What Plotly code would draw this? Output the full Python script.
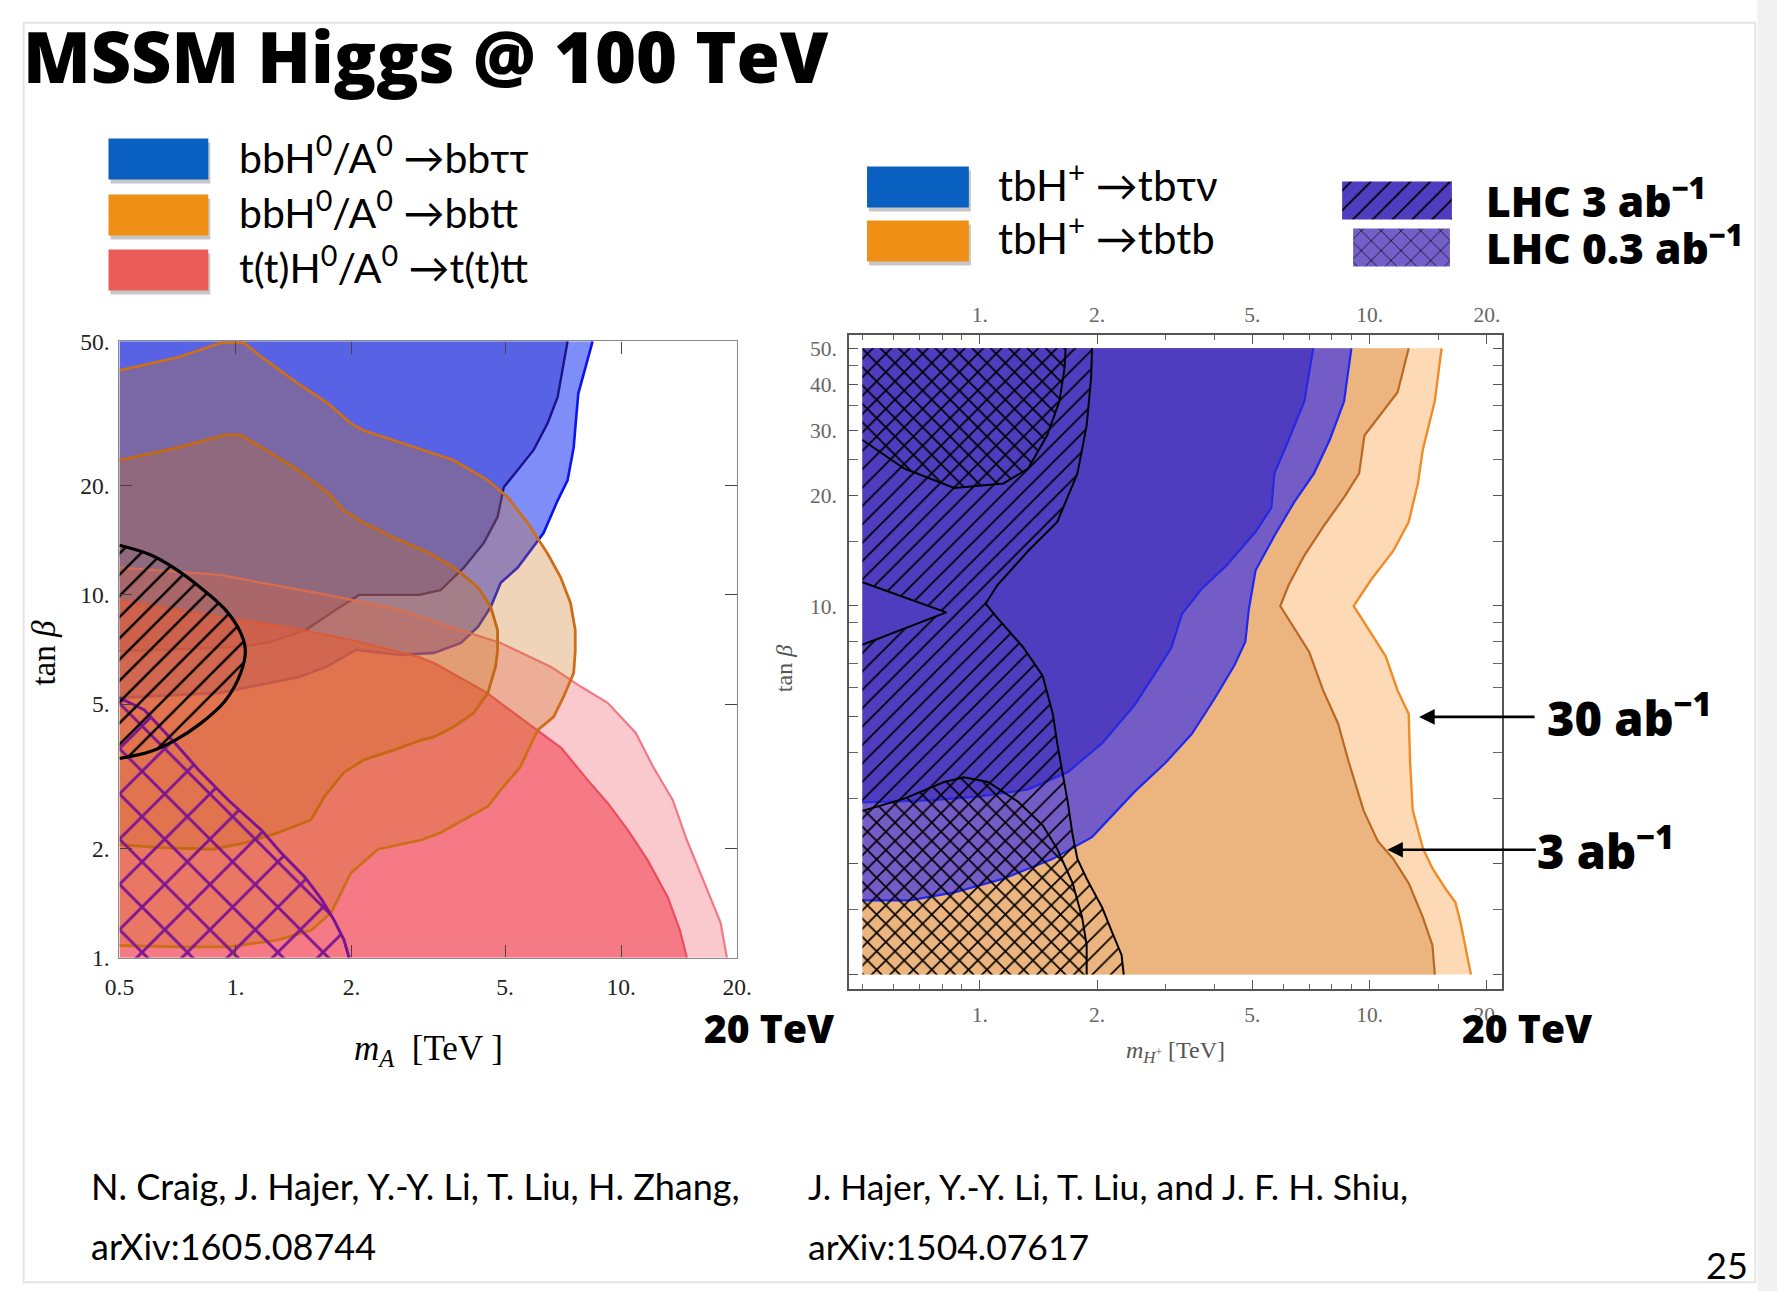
import numpy as np
import plotly.graph_objects as go

W, H = 1777, 1291

# ---------------- left panel: neutral Higgs, m_A [TeV] vs tan(beta) ----------------
# bbH0/A0 -> bb tau tau  (30 ab^-1 outer, 3 ab^-1 inner)
BBTAUTAU_30_MA = [8.43, 7.99, 7.74, 7.62, 7.53, 7.26, 6.84, 6.29, 5.93, 5.39, 4.87, 4.59, 4.25, 3.84, 3.27, 2.68, 2.05, 1.72, 1.46, 1.10, 0.91, 0.5]
BBTAUTAU_30_TB = [50, 40.8, 35.9, 29.7, 25.5, 20.7, 18.2, 14.8, 13.6, 11.9, 10.8, 9.26, 8.16, 7.37, 6.92, 6.83, 7.05, 6.33, 5.94, 5.58, 5.37, 5.2]
BBTAUTAU_3_MA = [7.26, 7.09, 6.84, 6.44, 5.93, 5.39, 4.96, 4.78, 4.40, 3.91, 3.40, 2.99, 2.09, 1.82, 1.52, 1.22, 1.04, 0.75, 0.5]
BBTAUTAU_3_TB = [50, 43.5, 35.1, 29.7, 25.1, 22.1, 19.8, 16.4, 13.9, 11.9, 10.3, 10.0, 10.0, 9.1, 8.0, 7.4, 7.2, 7.1, 7.0]

# t(t)H0/A0 -> t(t)tt
TTTT_30_MA = [0.5, 0.91, 1.65, 2.68, 3.62, 4.87, 6.58, 7.87, 9.22, 10.9, 12.1, 13.6, 14.8, 16.3, 18.1, 18.8]
TTTT_30_TB = [11.9, 11.35, 10.1, 9.09, 8.16, 7.37, 6.33, 5.58, 5.04, 4.17, 3.36, 2.72, 2.11, 1.64, 1.25, 1.0]
TTTT_3_MA = [0.5, 0.91, 1.35, 2.0, 2.99, 3.27, 4.45, 5.95, 7.0, 8.18, 9.22, 10.4, 11.7, 13.2, 14.2, 14.8]
TTTT_3_TB = [9.68, 8.69, 8.16, 7.51, 6.74, 6.49, 5.4, 4.3, 3.78, 3.09, 2.67, 2.25, 1.86, 1.47, 1.19, 1.0]

# bbH0/A0 -> bbtt
BBTT_30_MA = [0.5, 0.71, 0.92, 1.05, 1.17, 1.45, 1.74, 1.99, 2.15, 2.57, 3.03, 3.68, 4.51, 5.08, 5.72, 6.44, 6.96, 7.39, 7.6, 7.6, 7.53, 7.09, 6.68, 6.07, 5.48, 4.87, 4.51, 3.91, 3.40, 3.03, 2.34, 1.99, 1.88, 1.77, 1.57, 1.29, 0.96, 0.71, 0.5]
BBTT_30_TB = [41.6, 45.2, 49.6, 49.6, 45.2, 38.3, 33.7, 29.7, 28.4, 26.7, 25.2, 23.5, 20.7, 18.6, 15.8, 13.0, 11.2, 9.5, 8.0, 7.0, 6.09, 5.24, 4.61, 4.24, 3.36, 2.90, 2.61, 2.40, 2.21, 2.11, 1.99, 1.71, 1.51, 1.33, 1.19, 1.12, 1.07, 1.07, 1.08]
BBTT_3_MA = [0.5, 0.71, 0.94, 1.03, 1.17, 1.45, 1.74, 1.91, 2.15, 2.57, 3.2, 3.68, 4.25, 4.59, 4.78, 4.78, 4.72, 4.51, 4.15, 3.68, 3.27, 3.03, 2.6, 2.15, 1.91, 1.70, 1.57, 1.29, 1.05, 0.87, 0.64, 0.5]
BBTT_3_TB = [23.5, 25.5, 27.6, 27.6, 25.5, 22.1, 19.1, 17.1, 15.8, 14.4, 13.0, 11.9, 10.5, 9.26, 8.0, 7.0, 6.33, 5.37, 4.73, 4.33, 4.06, 3.98, 3.75, 3.51, 3.24, 2.78, 2.40, 2.21, 2.07, 1.99, 2.01, 2.05]

# LHC reach (left panel)
LHC3_L_MA = [0.5, 0.601, 0.698, 0.809, 0.939, 1.03, 1.06, 1.03, 0.939, 0.809, 0.698, 0.601, 0.5]
LHC3_L_TB = [13.7, 12.9, 11.8, 10.5, 9.12, 7.88, 7.02, 6.07, 5.10, 4.41, 3.98, 3.70, 3.54]
LHC03_L_MA = [0.5, 0.58, 0.711, 0.80, 0.957, 1.165, 1.31, 1.51, 1.67, 1.80, 1.91, 1.97]
LHC03_L_TB = [5.2, 4.82, 3.81, 3.30, 2.72, 2.25, 1.95, 1.67, 1.45, 1.27, 1.12, 1.0]

# ---------------- right panel: charged Higgs, m_H+ [TeV] vs tan(beta) ----------------
TBTAUNU_3_MH = [7.17, 6.8, 6.2, 5.7, 5.6, 5.1, 4.3, 3.7, 3.3, 3.1, 2.8, 2.5, 2.06, 1.68, 1.33, 0.99, 0.74, 0.5]
TBTAUNU_3_TB = [50, 35.9, 28.2, 22.9, 18.5, 15.9, 12.9, 11.1, 9.5, 7.7, 6.5, 5.4, 4.24, 3.54, 3.18, 3.04, 2.97, 2.93]
TBTAUNU_30_MH = [8.98, 8.6, 7.9, 7.2, 6.4, 5.7, 5.1, 4.9, 4.8, 4.5, 4.0, 3.5, 3.0, 2.5, 1.94, 1.54, 1.15, 0.86, 0.66, 0.5]
TBTAUNU_30_TB = [50, 35.9, 28.2, 22.9, 19.1, 15.5, 12.5, 9.8, 8.0, 6.9, 5.6, 4.5, 3.76, 3.14, 2.36, 2.06, 1.82, 1.67, 1.59, 1.59]
TBTB_3_MH = [12.6, 11.8, 9.7, 9.4, 8.6, 7.6, 6.8, 6.2, 5.9, 6.4, 7.0, 7.6, 8.3, 8.85, 9.66, 10.5, 11.5, 12.6, 13.7, 14.5, 14.7]
TBTB_3_TB = [50, 38, 29, 22.9, 19.7, 16.4, 13.7, 11.4, 10, 8.7, 7.5, 5.9, 4.8, 3.76, 2.78, 2.3, 2.06, 1.77, 1.43, 1.2, 1.0]
TBTB_30_MH = [15.3, 14.7, 13.7, 13.3, 12.6, 11.5, 10.1, 9.1, 9.9, 11.0, 11.8, 12.6, 12.7, 12.9, 13.7, 14.5, 15.6, 16.6, 17.1, 17.6, 18.2]
TBTB_30_TB = [50, 36, 26.6, 21.5, 16.9, 14.1, 11.8, 10, 8.7, 7.3, 5.9, 5.1, 3.8, 2.8, 2.2, 1.94, 1.72, 1.57, 1.39, 1.2, 1.0]

# LHC reach (right panel)
LHC3_R_MH = [1.94, 1.93, 1.88, 1.78, 1.58, 1.33, 1.11, 1.035, 1.11, 1.29, 1.45, 1.54, 1.58, 1.63, 1.68, 1.73, 1.78, 1.88, 2.06, 2.18, 2.31, 2.34]
LHC3_R_TB = [50, 41.7, 30.9, 22.9, 16.9, 14.1, 11.4, 10.15, 9.27, 7.74, 6.46, 5.08, 4.24, 3.54, 2.95, 2.39, 2.06, 1.82, 1.52, 1.31, 1.13, 1.0]
LHC3_R_NOTCH_MH = [0.5, 0.82, 0.5]
LHC3_R_NOTCH_TB = [7.85, 9.61, 11.6]
LHC03_R_TOP_MH = [1.66, 1.65, 1.60, 1.49, 1.33, 1.15, 0.86, 0.64, 0.5]
LHC03_R_TOP_TB = [50, 44.3, 35.9, 29.1, 23.6, 21.5, 20.9, 23.6, 28.2]
LHC03_R_BOT_MH = [0.5, 0.64, 0.81, 0.91, 1.05, 1.25, 1.45, 1.58, 1.73, 1.83, 1.88, 1.88]
LHC03_R_BOT_TB = [2.78, 3.0, 3.33, 3.43, 3.33, 2.95, 2.54, 2.19, 1.77, 1.43, 1.2, 1.0]

# scan limits
M_MIN, M_MAX = 0.5, 20.0
TB_MIN, TB_MAX = 1.0, 50.0

X_TICKS = [0.5, 1, 2, 5, 10, 20]
X_TICKTEXT = ["0.5", "1.", "2.", "5.", "10.", "20."]
Y_TICKS = [1, 2, 5, 10, 20, 50]
Y_TICKTEXT = ["1.", "2.", "5.", "10.", "20.", "50."]
XR_TICKS = [1, 2, 5, 10, 20]
XR_TICKTEXT = ["1.", "2.", "5.", "10.", "20."]
YR_TICKS = [1, 2, 5, 10, 20, 30, 40, 50]
YR_TICKTEXT = ["", "", "", "10.", "20.", "30.", "40.", "50."]

SANS = "Lato"
BOLD = "Open Sans"
SERIF = "Liberation Serif"

# page placement: slide pixel -> paper fraction (slight inset about the page centre)
SX, SY = 0.985, 0.981
CX, CY = W / 2, H / 2


def px(t):
    return (CX + (t - CX) / SX) / W


def py(t):
    return 1 - (CY + (t - CY) / SY) / H


fig = go.Figure()


def region(bx, by, cx, cy, fill, line=None, lw=2.0, axes=("x", "y"),
           pattern=None, shape="linear"):
    """Filled contour: boundary curve (bx, by) closed along the scan edges (cx, cy)."""
    xa, ya = axes
    kw = {}
    if pattern is not None:
        kw["fillpattern"] = pattern
    fig.add_trace(go.Scatter(
        x=list(bx) + list(cx), y=list(by) + list(cy), mode="lines",
        fill="toself", fillcolor=fill, line=dict(width=0, color="rgba(0,0,0,0)", shape=shape),
        xaxis=xa, yaxis=ya, hoverinfo="skip", **kw))
    if line:
        fig.add_trace(go.Scatter(
            x=bx, y=by, mode="lines", line=dict(color=line, width=lw, shape=shape),
            xaxis=xa, yaxis=ya, hoverinfo="skip"))


def hatch(shape_, color, size, solidity):
    return dict(shape=shape_, fgcolor=color, bgcolor="rgba(0,0,0,0)",
                size=size, solidity=solidity, fillmode="replace")


# ---- left panel layers: blue underneath, red, orange on top ----
region(BBTAUTAU_30_MA, BBTAUTAU_30_TB, [M_MIN], [TB_MAX], "rgba(70,90,245,0.69)", "rgb(10,20,235)", 2.6)
region(BBTAUTAU_3_MA, BBTAUTAU_3_TB, [M_MIN], [TB_MAX], "rgba(60,70,215,0.59)", "rgb(25,20,140)", 2.4)
region(TTTT_30_MA, TTTT_30_TB, [M_MIN], [TB_MIN], "rgba(240,90,105,0.33)", "rgba(240,110,125,0.9)", 2.2)
region(TTTT_3_MA, TTTT_3_TB, [M_MIN], [TB_MIN], "rgba(242,80,95,0.65)", "rgba(232,70,85,0.9)", 2.2)
region(BBTT_30_MA, BBTT_30_TB, [], [], "rgba(205,112,22,0.30)", "rgb(205,110,25)", 2.8)
region(BBTT_3_MA, BBTT_3_TB, [], [], "rgba(205,112,22,0.27)", "rgb(195,105,20)", 2.8)
region(LHC03_L_MA, LHC03_L_TB, [M_MIN], [TB_MIN], "rgba(0,0,0,0)", "rgb(125,20,145)", 3.0,
       pattern=hatch("x", "rgb(125,20,145)", 32, 0.17))
region(LHC3_L_MA, LHC3_L_TB, [], [], "rgba(0,0,0,0)", "black", 3.2,
       pattern=hatch("/", "black", 15, 0.16), shape="spline")

# ---- right panel ----
AX_R = ("x2", "y2")
region(TBTB_30_MH, TBTB_30_TB, [M_MIN, M_MIN], [TB_MIN, TB_MAX], "rgb(253,217,182)", "rgb(240,140,40)", 2.4, AX_R)
region(TBTB_3_MH, TBTB_3_TB, [M_MIN, M_MIN], [TB_MIN, TB_MAX], "rgb(236,180,126)", "rgb(185,105,35)", 2.2, AX_R)
region(TBTAUNU_30_MH, TBTAUNU_30_TB, [M_MIN], [TB_MAX], "rgb(116,92,198)", "rgb(30,40,240)", 2.2, AX_R)
region(TBTAUNU_3_MH, TBTAUNU_3_TB, [M_MIN], [TB_MAX], "rgb(80,60,190)", "rgb(40,40,225)", 2.2, AX_R)
region(LHC3_R_MH, LHC3_R_TB,
       [M_MIN] + LHC3_R_NOTCH_MH + [M_MIN], [TB_MIN] + LHC3_R_NOTCH_TB + [TB_MAX],
       "rgba(0,0,0,0)", "black", 2.0, AX_R, pattern=hatch("/", "black", 13, 0.13))
# notch edge of the 3 ab^-1 region, drawn on the top (mirrored) axis
fig.add_trace(go.Scatter(x=LHC3_R_NOTCH_MH, y=LHC3_R_NOTCH_TB, mode="lines",
                         line=dict(color="black", width=2.0), xaxis="x3", yaxis="y2", hoverinfo="skip"))
region(LHC03_R_TOP_MH, LHC03_R_TOP_TB, [M_MIN], [TB_MAX], "rgba(0,0,0,0)", "black", 2.0, AX_R,
       pattern=hatch("\\", "black", 13, 0.13))
region(LHC03_R_BOT_MH, LHC03_R_BOT_TB, [M_MIN], [TB_MIN], "rgba(0,0,0,0)", "black", 2.0, AX_R,
       pattern=hatch("\\", "black", 13, 0.13))


# ---- legend swatches, drawn on a page-sized pixel axis ----
def swatch(x0, y0, x1, y1, color, pattern=None, shadow=True):
    if shadow:
        fig.add_trace(go.Scatter(x=[x0 + 2, x1 + 2, x1 + 2, x0 + 2], y=[y0 + 4, y0 + 4, y1 + 4, y1 + 4],
                                 fill="toself", fillcolor="rgba(0,0,0,0.22)", mode="lines",
                                 line=dict(width=0), xaxis="x4", yaxis="y4", hoverinfo="skip"))
    kw = {}
    if pattern is not None:
        kw["fillpattern"] = pattern
    fig.add_trace(go.Scatter(x=[x0, x1, x1, x0], y=[y0, y0, y1, y1], fill="toself", fillcolor=color,
                             mode="lines", line=dict(width=0), xaxis="x4", yaxis="y4",
                             hoverinfo="skip", **kw))


swatch(107, 138, 207, 179, "rgb(10,96,192)")
swatch(107, 194, 207, 235, "rgb(240,143,22)")
swatch(107, 249, 207, 290, "rgb(234,92,88)")
swatch(867, 166, 969, 207, "rgb(10,96,192)")
swatch(867, 220, 969, 261, "rgb(240,143,22)")
swatch(1343, 181, 1453, 219, "rgb(80,60,190)",
       pattern=dict(shape="/", fgcolor="black", bgcolor="rgb(80,60,190)", size=14, solidity=0.12, fillmode="replace"),
       shadow=False)
swatch(1354, 228, 1451, 266, "rgb(115,95,200)",
       pattern=dict(shape="x", fgcolor="black", bgcolor="rgb(115,95,200)", size=14, solidity=0.1, fillmode="replace"),
       shadow=False)

# ---- axes ----
lx0, lx1, ly0, ly1 = 118, 737, 341, 958
rx0, rx1, ry0, ry1 = 849, 1503, 335, 989
r_xlo = (rx0 - 980) / 390.5
r_xhi = (rx1 - 980) / 390.5
r_yhi = np.log10(50) + (348 - ry0) / 369.0
r_ylo = np.log10(50) - (ry1 - 348) / 369.0

left_tick_font = dict(family=SERIF, size=23.5, color="#222")
right_tick_font = dict(family=SERIF, size=21.5, color="#666")

fig.update_layout(
    width=W, height=H, autosize=False, margin=dict(l=0, r=0, t=0, b=0, pad=0),
    paper_bgcolor="white", plot_bgcolor="rgba(0,0,0,0)", showlegend=False,
    xaxis=dict(type="log", range=[np.log10(M_MIN), np.log10(M_MAX)], domain=[px(lx0), px(lx1)], anchor="y",
               tickmode="array", tickvals=X_TICKS, ticktext=X_TICKTEXT, ticks="inside", ticklen=12,
               tickcolor="#444", tickwidth=1.3, mirror="allticks", showline=True, linecolor="#888",
               linewidth=1.4, showgrid=False, zeroline=False, tickfont=left_tick_font,
               ticklabelstandoff=8),
    yaxis=dict(type="log", range=[np.log10(TB_MIN), np.log10(TB_MAX)], domain=[py(ly1), py(ly0)],
               anchor="x", tickmode="array", tickvals=Y_TICKS, ticktext=Y_TICKTEXT, ticks="inside",
               ticklen=12, tickcolor="#444", tickwidth=1.3, mirror="allticks", showline=True,
               linecolor="#888", linewidth=1.4, showgrid=False, zeroline=False, tickfont=left_tick_font,
               ticklabelstandoff=4),
    xaxis2=dict(type="log", range=[r_xlo, r_xhi], domain=[px(rx0), px(rx1)], anchor="y2",
                tickmode="array", tickvals=XR_TICKS, ticktext=XR_TICKTEXT, ticks="inside", ticklen=9,
                tickcolor="#555", tickwidth=1.2, mirror="allticks", showline=True, linecolor="#555",
                linewidth=1.6, showgrid=False, zeroline=False, tickfont=right_tick_font,
                ticklabelstandoff=6,
                minor=dict(ticks="inside", ticklen=5, tickcolor="#666", tickmode="array",
                           tickvals=[0.5, 0.6, 0.7, 0.8, 0.9, 3, 4, 6, 7, 8, 9, 15], showgrid=False)),
    xaxis3=dict(type="log", range=[r_xlo, r_xhi], overlaying="x2", side="top", anchor="y2",
                tickmode="array", tickvals=XR_TICKS, ticktext=XR_TICKTEXT, ticks="", showline=False,
                showgrid=False, zeroline=False, tickfont=right_tick_font, ticklabelstandoff=8),
    yaxis2=dict(type="log", range=[r_ylo, r_yhi], domain=[py(ry1), py(ry0)], anchor="x2",
                tickmode="array", tickvals=YR_TICKS, ticktext=YR_TICKTEXT, ticks="inside", ticklen=9,
                tickcolor="#555", tickwidth=1.2, mirror="allticks", showline=True, linecolor="#555",
                linewidth=1.6, showgrid=False, zeroline=False, tickfont=right_tick_font,
                ticklabelstandoff=6,
                minor=dict(ticks="inside", ticklen=5, tickcolor="#666", tickmode="array",
                           tickvals=[1.5, 3, 4, 6, 7, 8, 9, 15, 25, 35, 45], showgrid=False)),
    xaxis4=dict(range=[CX - CX * SX, CX + CX * SX], domain=[0, 1], anchor="y4", visible=False, fixedrange=True),
    yaxis4=dict(range=[CY + CY * SY, CY - CY * SY], domain=[0, 1], anchor="x4", visible=False, fixedrange=True),
)

# ---- text ----
ann = []


def text(s, x, y, size, family=SANS, weight=400, color="black", xanchor="left", angle=0):
    ann.append(dict(text=s, x=px(x), y=py(y), xref="paper", yref="paper", xanchor=xanchor,
                    yanchor="middle", showarrow=False, textangle=angle, borderpad=0,
                    font=dict(family=family, size=size, color=color, weight=weight)))


text("MSSM Higgs @ 100 TeV", 20, 55, 70, family=BOLD, weight=800)

text("bbH<sup>0</sup>/A<sup>0</sup> →bbττ", 237, 154, 41)
text("bbH<sup>0</sup>/A<sup>0</sup> →bbtt", 237, 209, 41)
text("t(t)H<sup>0</sup>/A<sup>0</sup> →t(t)tt", 237, 265, 41)
text("tbH<sup>+</sup> →tbτν", 997, 181, 42)
text("tbH<sup>+</sup> →tbtb", 997, 235, 42)
text("LHC 3 ab<sup>−1</sup>", 1486, 197, 42.5, family=BOLD, weight=800)
text("LHC 0.3 ab<sup>−1</sup>", 1486, 245, 42.5, family=BOLD, weight=800)

text("<i>m</i><sub><i>A</i></sub>  [TeV ]", 428, 1051, 35, family=SERIF, xanchor="center")
text("tan <i>β</i>", 42, 653, 33, family=SERIF, xanchor="center", angle=-90)
text("<i>m</i><sub><i>H</i><sup>+</sup></sub> [TeV]", 1176, 1052, 24, family=SERIF, color="#555", xanchor="center")
text("tan <i>β</i>", 784, 669, 24, family=SERIF, color="#555", xanchor="center", angle=-90)

text("20 TeV", 703, 1028, 39, family=BOLD, weight=800)
text("20 TeV", 1462, 1028, 39, family=BOLD, weight=800)
text("30 ab<sup>−1</sup>", 1547, 716, 47, family=BOLD, weight=800)
text("3 ab<sup>−1</sup>", 1537, 849, 47, family=BOLD, weight=800)

text("N. Craig, J. Hajer, Y.-Y. Li, T. Liu, H. Zhang,", 88, 1187, 36)
text("arXiv:1605.08744", 88, 1247, 36)
text("J. Hajer, Y.-Y. Li, T. Liu, and J. F. H. Shiu,", 807, 1187, 35.5)
text("arXiv:1504.07617", 807, 1247, 35.5)
text("25", 1751, 1266, 36, xanchor="right")

# arrows pointing at the 30 and 3 ab^-1 tbtb contours
for tip_x, tip_y, tail_px in [(13.4, 5.0, 117), (11.1, 2.18, 150)]:
    ann.append(dict(x=np.log10(tip_x), y=np.log10(tip_y), xref="x2", yref="y2", ax=tail_px, ay=0,
                    axref="pixel", ayref="pixel", showarrow=True, arrowhead=2, arrowsize=1.2,
                    arrowwidth=2.6, arrowcolor="black", text=""))

fig.update_layout(annotations=ann)

# slide frame
fig.add_shape(type="rect", xref="paper", yref="paper", x0=px(22), x1=px(1757), y0=py(1283), y1=py(22),
              line=dict(color="#e4e4e4", width=2), fillcolor="rgba(0,0,0,0)", layer="below")
fig.add_shape(type="rect", xref="paper", yref="paper", x0=px(1759), x1=px(1790), y0=py(1300), y1=py(-10),
              line=dict(width=0), fillcolor="#f1f1f1", layer="below")

fig.write_html("out.html")
